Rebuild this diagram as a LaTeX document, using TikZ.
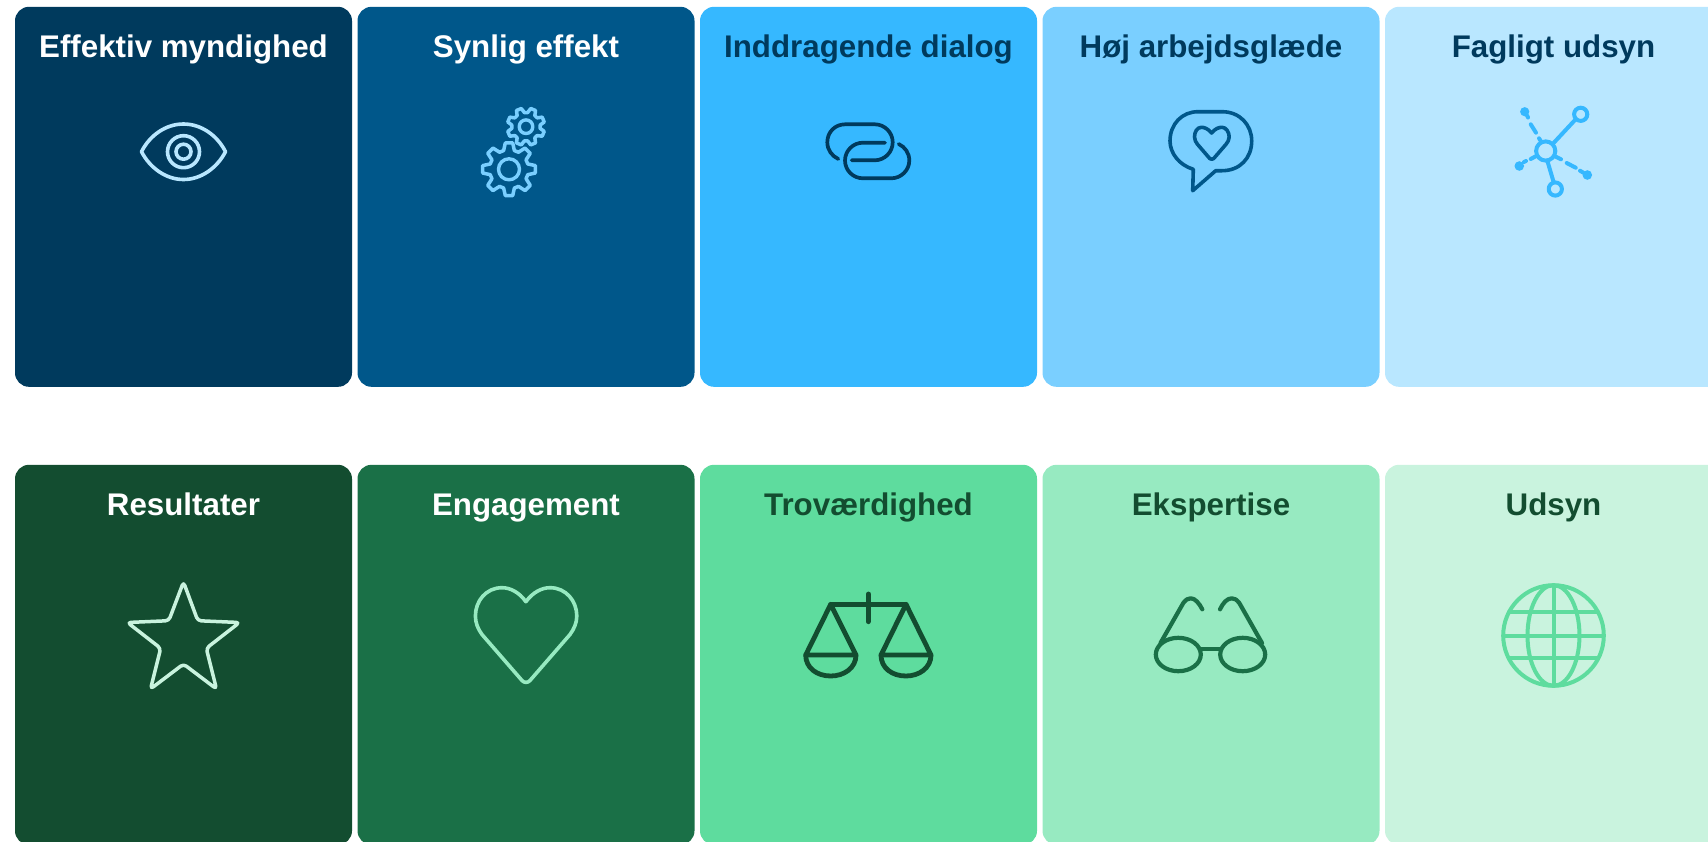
\documentclass[tikz,border=0pt]{standalone}
\usepackage{fontspec}
\setmainfont{Liberation Sans}
\definecolor{bA}{HTML}{003A5D}
\definecolor{bB}{HTML}{00578A}
\definecolor{bC}{HTML}{36B8FF}
\definecolor{bD}{HTML}{7ACFFF}
\definecolor{bE}{HTML}{B9E7FF}
\definecolor{gA}{HTML}{134D30}
\definecolor{gB}{HTML}{1A7047}
\definecolor{gC}{HTML}{5EDC9E}
\definecolor{gD}{HTML}{97EAC1}
\definecolor{gE}{HTML}{C9F3DE}
\newcommand{\cogshape}[6]{% cx cy tip root rot lw
  \draw[shift={(#1,#2)},line width=#6pt,line join=round,fill=bB,draw=bD]
    (#5-16:#4) \foreach \i in {0,...,7}{
      -- (#5+45*\i-16:#4) -- (#5+45*\i-8:#3) -- (#5+45*\i+8:#3) -- (#5+45*\i+16:#4)
    } -- cycle;
}
\tikzset{
  card/.style={rectangle,rounded corners=14pt,minimum width=337pt,minimum height=380pt,inner sep=0pt,outer sep=0pt,draw=none},
  cardtitle/.style={anchor=base,inner sep=0pt,outer sep=0pt,font=\fontsize{31.3}{36}\selectfont\bfseries},
  icon/.style={line width=#1,line cap=round,line join=round,fill=none},
  icon/.default=3pt
}
\begin{document}
\begin{tikzpicture}[x=1pt,y=-1pt]
\useasboundingbox (0,0) rectangle (1708,841);
\clip (0,0) rectangle (1708,841);
% top row
\node[card,fill=bA] (c1) at (183.5,196.8) {};
\node[card,fill=bB] (c2) at (526,196.8) {};
\node[card,fill=bC] (c3) at (868.5,196.8) {};
\node[card,fill=bD] (c4) at (1211,196.8) {};
\node[card,fill=bE] (c5) at (1553.5,196.8) {};
\node[cardtitle,text=white] (t1) at (183.5,57.3) {Effektiv myndighed};
\node[cardtitle,text=white] (t2) at (526,57.3) {Synlig effekt};
\node[cardtitle,text=bA] (t3) at (868.5,57.3) {Inddragende dialog};
\node[cardtitle,text=bA] (t4) at (1211,57.3) {Høj arbejdsglæde};
\node[cardtitle,text=bA] (t5) at (1553.5,57.3) {Fagligt udsyn};
% bottom row
\node[card,fill=gA] (d1) at (183.5,654.8) {};
\node[card,fill=gB] (d2) at (526,654.8) {};
\node[card,fill=gC] (d3) at (868.5,654.8) {};
\node[card,fill=gD] (d4) at (1211,654.8) {};
\node[card,fill=gE] (d5) at (1553.5,654.8) {};
\node[cardtitle,text=white] (u1) at (183.5,515.2) {Resultater};
\node[cardtitle,text=white] (u2) at (526,515.2) {Engagement};
\node[cardtitle,text=gA] (u3) at (868.5,515.2) {Troværdighed};
\node[cardtitle,text=gA] (u4) at (1211,515.2) {Ekspertise};
\node[cardtitle,text=gA] (u5) at (1553.5,515.2) {Udsyn};
% eye
\draw[icon=3.6pt,draw=bE] (141.5,151.7) .. controls (150,135) and (166,124) .. (183.5,124) .. controls (201,124) and (217,135) .. (225.5,151.7) .. controls (217,168) and (201,179.5) .. (183.5,179.5) .. controls (166,179.5) and (150,168) .. cycle;
\draw[icon=3.6pt,draw=bE] (183.5,151.7) circle[radius=16];
\draw[icon=3.6pt,draw=bE] (183.5,151.7) circle[radius=7.5];
% gears
\cogshape{526}{126.7}{18.8}{14.2}{22.5}{3.5}
\draw[icon=3.4pt,draw=bD] (526,126.7) circle[radius=6.8];
\cogshape{509}{169.3}{26.6}{19.5}{0}{3.5}
\draw[icon=3.4pt,draw=bD] (509,169.3) circle[radius=10.5];
% chain
\draw[icon=3.7pt,draw=bA] (838.3,159) .. controls (832,156) and (827.3,150) .. (827.3,142.3) .. controls (827.3,132) and (835,124.3) .. (845.3,124.3) -- (874.7,124.3) .. controls (884.6,124.3) and (892.7,132.4) .. (892.7,142.3) .. controls (892.7,152.2) and (884.6,160.3) .. (874.7,160.3) -- (851.7,160.3);
\draw[icon=3.7pt,draw=bA] (885,142.7) -- (863,142.7) .. controls (853,142.7) and (845,150.7) .. (845,160.5) .. controls (845,170.3) and (853,178.3) .. (863,178.3) -- (891.3,178.3) .. controls (901,178.3) and (909.3,170.3) .. (909.3,160.5) .. controls (909.3,153) and (905,147) .. (898.7,144);
% speech bubble
\draw[icon=3.6pt,draw=bB] (1193.3,169.3) .. controls (1179,165) and (1170,153) .. (1170,141) .. controls (1170,124) and (1182,111.7) .. (1198,111.7) -- (1222,111.7) .. controls (1240,111.7) and (1251.7,125) .. (1251.7,141) .. controls (1251.7,158) and (1240,170.7) .. (1222,170.7) -- (1215.7,170.7) -- (1192.7,190.7) -- cycle;
\draw[icon=3.6pt,draw=bB] (1211.7,133) .. controls (1208,128.5) and (1204,127.3) .. (1201.5,127.3) .. controls (1197,127.3) and (1194.5,132) .. (1194.5,137) .. controls (1194.5,140) and (1196,142.5) .. (1197.5,144.3) -- (1209.7,158.5) .. controls (1210.7,159.5) and (1212.7,159.5) .. (1213.7,158.5) -- (1226,144.3) .. controls (1227.5,142.5) and (1229.2,140) .. (1229.2,137) .. controls (1229.2,132) and (1226,127.3) .. (1222,127.3) .. controls (1219,127.3) and (1215,128.5) .. cycle;
% network
\begin{scope}[icon=4pt,draw=bC]
\draw (1545.7,151) circle[radius=9.6];
\draw (1580.7,114.3) circle[radius=6.6];
\draw (1555.3,189) circle[radius=6.6];
\draw (1553.3,143.3) -- (1575,120);
\draw (1547.3,160.7) -- (1553.3,181);
\fill[bC] (1524.7,111.7) circle[radius=4.6];
\fill[bC] (1519.3,166) circle[radius=4.8];
\fill[bC] (1587.3,175) circle[radius=4.8];
\draw (1527,115.5) -- (1528,117.5);
\draw (1530.7,124.3) -- (1536,132.7);
\draw (1539,138.3) -- (1540.7,141);
\draw (1524,162) -- (1526,161);
\draw (1530.7,159) -- (1535.7,156.3);
\draw (1555.7,156.7) -- (1561,159.3);
\draw (1566.7,163) -- (1575.7,167.7);
\draw (1580,170.7) -- (1583.3,172.7);
\end{scope}
% star
\draw[icon=3.5pt,draw=gE,rounded corners=3.5pt] (183.5,582) -- (197.8,620.7) -- (239.5,622.5) -- (206.3,648.3) -- (216.5,689) -- (183.5,664) -- (150.5,689) -- (160.7,648.3) -- (127.5,622.5) -- (168.8,620.7) -- cycle;
% heart
\draw[icon=3.6pt,draw=gD] (525.9,601.7) .. controls (519,592) and (510,587.7) .. (502,587.7) .. controls (486,587.7) and (475.4,601) .. (475.4,616) .. controls (475.4,623) and (478,629) .. (482,634.5) -- (522,680.5) .. controls (524,683) and (528,683) .. (530,680.5) -- (570,634.5) .. controls (574,629) and (576.8,623) .. (576.8,616) .. controls (576.8,601) and (566,587.7) .. (550,587.7) .. controls (542,587.7) and (533,592) .. cycle;
% scales
\begin{scope}[icon=4.8pt,draw=gA]
\draw (830.7,604.3) -- (906,604.3);
\draw (868.3,594) -- (868.3,621.7);
\draw (805.7,655) -- (830.7,604.3) -- (856,655) -- cycle;
\draw (805.7,655) .. controls (805.7,668) and (817,676) .. (830.7,676) .. controls (844,676) and (856,668) .. (856,655);
\draw (881,655) -- (906,604.3) -- (931,655) -- cycle;
\draw (881,655) .. controls (881,668) and (892,676) .. (906,676) .. controls (919,676) and (931,668) .. (931,655);
\end{scope}
% glasses
\begin{scope}[icon=4.2pt,draw=gB]
\draw (1178.3,654.5) ellipse[x radius=22.5,y radius=16.7];
\draw (1242.7,654.5) ellipse[x radius=22.5,y radius=16.7];
\draw (1200.5,649) -- (1220.5,649);
\draw (1160.5,643) -- (1183.3,603) .. controls (1186,599.5) and (1188,598.3) .. (1190.7,598.3) .. controls (1195,598.3) and (1199,603) .. (1202.3,609.3);
\draw (1262,643) -- (1239.3,603) .. controls (1236.5,599.5) and (1234.5,598.3) .. (1231.7,598.3) .. controls (1227,598.3) and (1223,603) .. (1220,609.3);
\end{scope}
% globe
\begin{scope}[icon=4pt,draw=gC]
\draw (1553.5,635.5) circle[radius=50.3];
\draw (1553.5,635.5) ellipse[x radius=26,y radius=50.3];
\draw (1553.5,585.2) -- (1553.5,685.8);
\draw (1509,612.3) -- (1598,612.3);
\draw (1503.2,635.7) -- (1603.8,635.7);
\draw (1509,658.3) -- (1598,658.3);
\end{scope}
\end{tikzpicture}
\end{document}
